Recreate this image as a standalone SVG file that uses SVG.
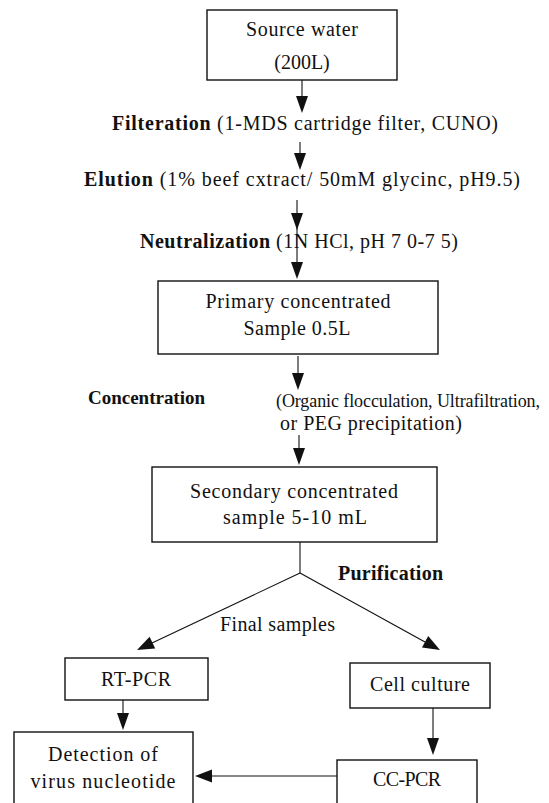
<svg xmlns="http://www.w3.org/2000/svg" width="549" height="803" viewBox="0 0 549 803">
<defs>
<style>
.box{fill:#fff;stroke:#111;stroke-width:1.4}
.ln{stroke:#111;stroke-width:1.1;fill:none}
.hd{fill:#111}
text{font-family:'Liberation Serif','DejaVu Serif',serif;font-size:20px;fill:#111}
.c{text-anchor:middle}
.b{font-weight:bold}
</style>
</defs>
<rect width="549" height="803" fill="#fff"/>
<g id="connectors">
<line class="ln" x1="302" y1="80" x2="302" y2="97"/><polygon class="hd" points="296,96 308,96 302,113"/>
<line class="ln" x1="300" y1="142" x2="300" y2="154"/><polygon class="hd" points="294,153 306,153 300,170"/>
<line class="ln" x1="297" y1="200" x2="297" y2="263"/><polygon class="hd" points="291,213 303,213 297,230"/><polygon class="hd" points="291,262 303,262 297,279"/>
<line class="ln" x1="298" y1="356" x2="298" y2="374"/><polygon class="hd" points="292,373 304,373 298,390"/>
<line class="ln" x1="299" y1="435" x2="299" y2="449"/><polygon class="hd" points="293,448 305,448 299,465"/>
<line class="ln" x1="300" y1="542" x2="300" y2="573"/>
<line class="ln" x1="300" y1="573" x2="152" y2="643"/><polygon class="hd" points="137,650 155.2,648.6 149.6,636.8"/>
<line class="ln" x1="300" y1="573" x2="425" y2="642"/><polygon class="hd" points="440,650 422,647.5 428.2,636.1"/>
<line class="ln" x1="123" y1="700" x2="123" y2="714"/><polygon class="hd" points="117,713 129,713 123,730"/>
<line class="ln" x1="433" y1="708" x2="433" y2="739"/><polygon class="hd" points="427,738 439,738 433,755"/>
<line class="ln" x1="337" y1="776" x2="210" y2="776"/><polygon class="hd" points="195,776 212,769.5 212,782.5"/>
</g>
<g id="n-source"><rect class="box" x="207" y="10" width="190" height="70"/><text class="c" x="302" y="36" textLength="112" lengthAdjust="spacing">Source water</text><text class="c" x="302" y="69">(200L)</text></g>
<g id="t-filter"><text x="112" y="130" textLength="386" lengthAdjust="spacing"><tspan class="b">Filteration</tspan> (1-MDS cartridge filter, CUNO)</text></g>
<g id="t-elution"><text x="84" y="186" textLength="436" lengthAdjust="spacing"><tspan class="b">Elution</tspan> (1% beef cxtract/ 50mM glycinc, pH9.5)</text></g>
<g id="t-neutral"><text x="140" y="248" textLength="318" lengthAdjust="spacing"><tspan class="b">Neutralization</tspan> (1N HCl, pH 7 0-7 5)</text></g>
<g id="n-primary"><rect class="box" x="158" y="281" width="280" height="73"/><text class="c" x="298" y="308" textLength="185" lengthAdjust="spacing">Primary concentrated</text><text class="c" x="297" y="335" textLength="107" lengthAdjust="spacing">Sample 0.5L</text></g>
<g id="t-conc"><text class="b" x="88" y="404" style="font-size:19px" textLength="117" lengthAdjust="spacing">Concentration</text><text x="276" y="407" style="font-size:18px" textLength="264" lengthAdjust="spacing">(Organic flocculation, Ultrafiltration,</text><text x="280" y="430" textLength="182" lengthAdjust="spacing">or PEG precipitation)</text></g>
<g id="n-secondary"><rect class="box" x="152" y="467" width="285" height="75"/><text class="c" x="294" y="498" textLength="208" lengthAdjust="spacing">Secondary concentrated</text><text class="c" x="295" y="524" textLength="144" lengthAdjust="spacing">sample 5-10 mL</text></g>
<g id="t-purif"><text class="b" x="338" y="580" textLength="105" lengthAdjust="spacing">Purification</text><text x="220" y="631" textLength="115" lengthAdjust="spacing">Final samples</text></g>
<g id="n-rtpcr"><rect class="box" x="65" y="658" width="143" height="42"/><text class="c" x="136" y="686" textLength="70" lengthAdjust="spacing">RT-PCR</text></g>
<g id="n-cell"><rect class="box" x="350" y="663" width="140" height="45"/><text class="c" x="420" y="691" textLength="100" lengthAdjust="spacing">Cell culture</text></g>
<g id="n-detect"><rect class="box" x="14" y="732" width="179" height="90"/><text class="c" x="103" y="761" textLength="110" lengthAdjust="spacing">Detection of</text><text class="c" x="103" y="788" textLength="145" lengthAdjust="spacing">virus nucleotide</text></g>
<g id="n-ccpcr"><rect class="box" x="337" y="760" width="140" height="60"/><text class="c" x="407" y="786" textLength="68" lengthAdjust="spacing">CC-PCR</text></g>
</svg>
